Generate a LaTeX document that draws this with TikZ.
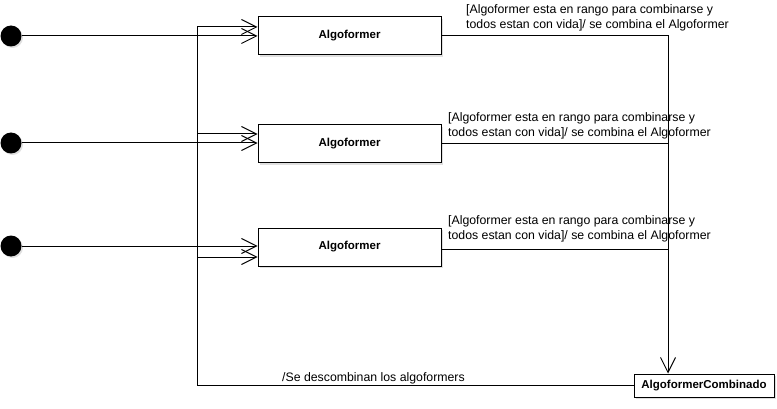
\documentclass[tikz,border=0pt]{standalone}
\usepackage{fontspec}
\setmainfont{Liberation Sans}
\usetikzlibrary{arrows.meta,shadows}
\tikzset{
  startdot/.style={circle,fill=black,minimum size=21pt,inner sep=0pt,drop shadow={opacity=0.25,shadow xshift=1.5pt,shadow yshift=-1.5pt}},
  statebox/.style={draw,fill=white,line width=1pt,minimum width=183pt,minimum height=38pt,inner sep=0pt,font=\fontsize{11.5}{13}\selectfont\bfseries,drop shadow={opacity=0.25,shadow xshift=2pt,shadow yshift=-2pt}},
  combbox/.style={statebox,minimum width=140pt,minimum height=23pt},
  trans/.style={line width=1pt,-{Straight Barb[length=15pt,width=15pt,line width=1pt]}},
  plain/.style={line width=1pt},
  guard/.style={anchor=north west,align=left,inner sep=0pt,font=\fontsize{12.3}{15}\selectfont}
}
\begin{document}
\begin{tikzpicture}[x=1pt,y=-1pt]
 \useasboundingbox (0,0) rectangle (777,409);
 % estados iniciales
 \node[startdot] (s1) at (11,36) {};
 \node[startdot] (s2) at (11,143) {};
 \node[startdot] (s3) at (11,246) {};
 % estados
 \node[statebox] (b1) at (349.5,36) {Algoformer};
 \node[statebox] (b2) at (349.5,144) {Algoformer};
 \node[statebox] (b3) at (349.5,247) {Algoformer};
 \node[combbox] (comb) at (704,385.5) {AlgoformerCombinado};
 \coordinate (bus) at (197,0);
 \coordinate (drop) at (668,0);
 % transiciones iniciales
 \draw[trans] (s1) -- (b1);
 \draw[trans] (s2.east) -- (s2.east -| b2.west);
 \draw[trans] (s3.east) -- (s3.east -| b3.west);
 % combinar
 \draw[trans] (b1.east) -| (drop |- comb.north);
 \draw[plain] (b2.east) -- (b2.east -| drop);
 \draw[plain] ([yshift=-2pt]b3.east) -- ([yshift=-2pt]b3.east -| drop);
 % descombinar
 \draw[trans] (comb.west) -| ([yshift=9pt]bus |- b1.west) -- ([yshift=9pt]b1.west);
 \draw[trans] ([yshift=10pt]bus |- b2.west) -- ([yshift=10pt]b2.west);
 \draw[trans] ([yshift=-10pt]bus |- b3.west) -- ([yshift=-10pt]b3.west);
 % etiquetas
 \node[guard] (g1) at (466,4) {[Algoformer esta en rango para combinarse y\\todos estan con vida]/ se combina el Algoformer};
 \node[guard] (g2) at (448,112) {[Algoformer esta en rango para combinarse y\\todos estan con vida]/ se combina el Algoformer};
 \node[guard] (g3) at (448,215) {[Algoformer esta en rango para combinarse y\\todos estan con vida]/ se combina el Algoformer};
 \node[guard] (g4) at (282,372) {/Se descombinan los algoformers};
\end{tikzpicture}
\end{document}
